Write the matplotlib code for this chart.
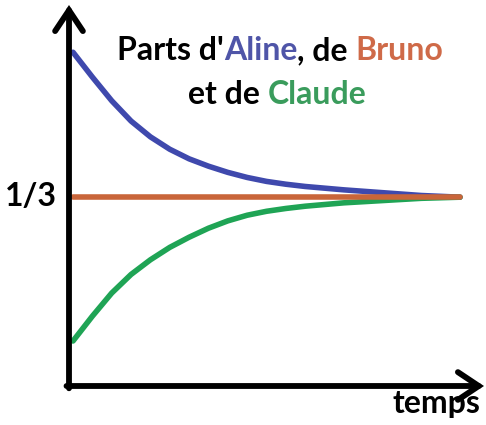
import matplotlib
matplotlib.use("Agg")
import matplotlib.pyplot as plt

# Data (shares over time)
temps = [0, 0.5, 1, 1.5, 2, 2.5, 3, 3.5, 4, 4.5, 5, 5.5, 6, 7, 8, 9, 10]
aline = [0.590, 0.546, 0.504, 0.468, 0.440, 0.418, 0.401, 0.388, 0.377, 0.368,
         0.361, 0.356, 0.352, 0.346, 0.341, 0.336, 0.333]
claude = [0.078, 0.122, 0.163, 0.196, 0.222, 0.244, 0.262, 0.278, 0.291, 0.301,
          0.308, 0.313, 0.317, 0.323, 0.327, 0.331, 0.333]
bruno = [1/3] * len(temps)
ytick_labels = ["1/3"]
xlabel = "temps"

c_blue = "#3f49ad"
c_orange = "#c9653a"
c_green = "#1fa455"
t_blue = "#4f55a8"
t_orange = "#cf6a48"
t_green = "#3a9c5c"

W, H = 486, 425
fig = plt.figure(figsize=(W/100, H/100), dpi=100)
fig.patch.set_facecolor("white")

# axes box in pixels
x0, x1 = 69, 484
y0, y1 = 386, 5
ax = fig.add_axes([x0/W, 1 - y0/H, (x1-x0)/W, (y0-y1)/H])
px_per_t = 38.7
t0 = 73
ax.set_xlim((x0 - t0)/px_per_t, (x1 - t0)/px_per_t)
px_per_share = 564
ax.set_ylim((385 - y0)/px_per_share, (385 - y1)/px_per_share)
for s in ax.spines.values():
    s.set_visible(False)
ax.set_xticks([])
ax.set_yticks([])
ax.patch.set_alpha(0)

lw = 4.0
ax.plot(temps, aline, color=c_blue, lw=lw, solid_capstyle="round", solid_joinstyle="round")
ax.plot(temps, claude, color=c_green, lw=lw, solid_capstyle="round", solid_joinstyle="round")
ax.plot(temps, bruno, color=c_orange, lw=lw, solid_capstyle="round")

# axes arrows
arrow = dict(arrowstyle="->,head_length=0.75,head_width=0.5", lw=4.2, color="black",
             shrinkA=0, shrinkB=0, mutation_scale=20, capstyle="round", joinstyle="miter")
ax.annotate("", xy=(0, 1), xytext=(0, -0.006), xycoords="axes fraction", arrowprops=arrow)
ax.annotate("", xy=(1, 0), xytext=(-0.006, 0), xycoords="axes fraction", arrowprops=arrow)

font = dict(family=["Lato", "DejaVu Sans"], fontweight="bold")
fs = 23

ax.text(-0.03, 1/3, ytick_labels[0], transform=ax.get_yaxis_transform(),
        ha="right", va="center", fontsize=fs, color="black", **font)
fig.text(480/W, 1 - 413/H, xlabel, ha="right", va="baseline", fontsize=fs, color="black", **font)

line1 = [("Parts d'", "black"), ("Aline", t_blue), (", de ", "black"), ("Bruno", t_orange)]
line2 = [("et de ", "black"), ("Claude", t_green)]

def chain(x, y, pieces):
    last = fig.text(x, y, pieces[0][0], color=pieces[0][1], fontsize=fs,
                    va="baseline", ha="left", **font)
    for txt, col in pieces[1:]:
        last = ax.annotate(txt, xy=(1, 0), xycoords=last, va="bottom", ha="left",
                           color=col, fontsize=fs, annotation_clip=False, **font)

chain(117/W, 1 - 60/H, line1)
chain(188/W, 1 - 104/H, line2)

fig.savefig("out.png", dpi=100, facecolor="white")
